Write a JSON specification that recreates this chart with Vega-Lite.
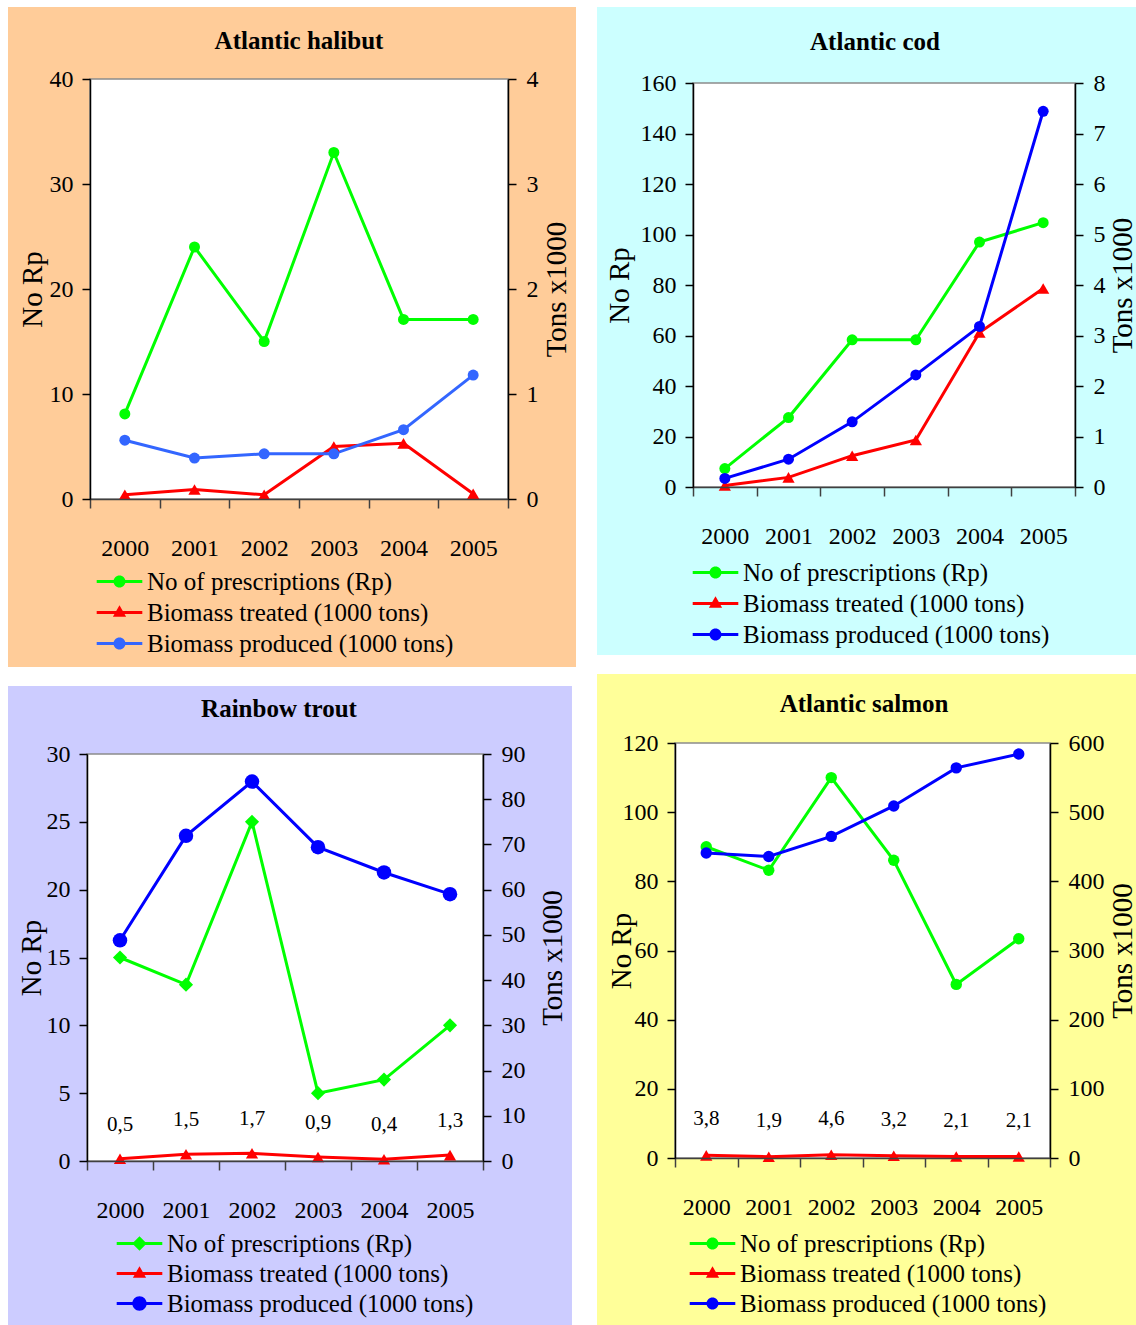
{
  "$schema": "https://vega.github.io/schema/vega-lite/v6.json",
  "padding": {"left": 7, "top": 7, "right": 1, "bottom": 0},
  "background": "#FFFFFF",
  "columns": 2,
  "spacing": {"row": 244, "column": 167},
  "bounds": "flush",
  "align": "all",
  "resolve": {"scale": {"color": "independent", "shape": "independent"}, "legend": {"color": "independent", "shape": "independent"}},
  "config": {
    "view": {"stroke": null},
    "style": {"guide-label": {"font": "Liberation Serif", "fontSize": 24, "fill": "#000000"}, "guide-title": {"font": "Liberation Serif", "fontSize": 29, "fontWeight": "normal", "fill": "#000000"}},
    "axis": {"grid": false, "labelFont": "Liberation Serif", "labelFontSize": 24, "labelColor": "#000000", "titleFont": "Liberation Serif", "titleFontSize": 29, "titleFontWeight": "normal", "titleColor": "#000000", "tickColor": "#000000", "domainColor": "#000000", "tickWidth": 1.5, "domainWidth": 1.5, "tickSize": 8},
    "axisX": {"tickBand": "extent", "labelAngle": 0, "labelPadding": 28, "tickSize": 9, "domainColor": "#404040", "tickColor": "#404040", "labelFont": "Liberation Serif", "labelFontSize": 24},
    "axisLeft": {"labelPadding": 9, "labelFont": "Liberation Serif", "labelFontSize": 24},
    "axisRight": {"labelPadding": 10, "titleAngle": 270, "titleBaseline": "top", "labelFont": "Liberation Serif", "labelFontSize": 24},
    "legend": {"labelFont": "Liberation Serif", "labelFontSize": 25, "labelColor": "#000000", "labelLimit": 600, "labelOffset": 15, "symbolSize": 576, "symbolStrokeWidth": 0, "symbolOpacity": 1, "rowPadding": 5, "padding": 0, "orient": "none", "direction": "vertical"},
    "locale": {"number": {"decimal": ",", "thousands": " ", "grouping": [3], "currency": ["", ""]}}
  },
  "datasets": {
    "halibut": [
      {"year": 2000, "series": "No of prescriptions (Rp)", "value": 8.1},
      {"year": 2001, "series": "No of prescriptions (Rp)", "value": 24},
      {"year": 2002, "series": "No of prescriptions (Rp)", "value": 15},
      {"year": 2003, "series": "No of prescriptions (Rp)", "value": 33},
      {"year": 2004, "series": "No of prescriptions (Rp)", "value": 17.1},
      {"year": 2005, "series": "No of prescriptions (Rp)", "value": 17.1},
      {"year": 2000, "series": "Biomass treated (1000 tons)", "value": 0.04},
      {"year": 2001, "series": "Biomass treated (1000 tons)", "value": 0.09},
      {"year": 2002, "series": "Biomass treated (1000 tons)", "value": 0.04},
      {"year": 2003, "series": "Biomass treated (1000 tons)", "value": 0.5},
      {"year": 2004, "series": "Biomass treated (1000 tons)", "value": 0.53},
      {"year": 2005, "series": "Biomass treated (1000 tons)", "value": 0.05},
      {"year": 2000, "series": "Biomass produced (1000 tons)", "value": 0.56},
      {"year": 2001, "series": "Biomass produced (1000 tons)", "value": 0.39},
      {"year": 2002, "series": "Biomass produced (1000 tons)", "value": 0.43},
      {"year": 2003, "series": "Biomass produced (1000 tons)", "value": 0.43},
      {"year": 2004, "series": "Biomass produced (1000 tons)", "value": 0.66},
      {"year": 2005, "series": "Biomass produced (1000 tons)", "value": 1.18}
    ],
    "cod": [
      {"year": 2000, "series": "No of prescriptions (Rp)", "value": 7.3},
      {"year": 2001, "series": "No of prescriptions (Rp)", "value": 27.5},
      {"year": 2002, "series": "No of prescriptions (Rp)", "value": 58.3},
      {"year": 2003, "series": "No of prescriptions (Rp)", "value": 58.3},
      {"year": 2004, "series": "No of prescriptions (Rp)", "value": 97},
      {"year": 2005, "series": "No of prescriptions (Rp)", "value": 104.7},
      {"year": 2000, "series": "Biomass treated (1000 tons)", "value": 0.03},
      {"year": 2001, "series": "Biomass treated (1000 tons)", "value": 0.19},
      {"year": 2002, "series": "Biomass treated (1000 tons)", "value": 0.62},
      {"year": 2003, "series": "Biomass treated (1000 tons)", "value": 0.93},
      {"year": 2004, "series": "Biomass treated (1000 tons)", "value": 3.06},
      {"year": 2005, "series": "Biomass treated (1000 tons)", "value": 3.93},
      {"year": 2000, "series": "Biomass produced (1000 tons)", "value": 0.17},
      {"year": 2001, "series": "Biomass produced (1000 tons)", "value": 0.55},
      {"year": 2002, "series": "Biomass produced (1000 tons)", "value": 1.29},
      {"year": 2003, "series": "Biomass produced (1000 tons)", "value": 2.22},
      {"year": 2004, "series": "Biomass produced (1000 tons)", "value": 3.18},
      {"year": 2005, "series": "Biomass produced (1000 tons)", "value": 7.44}
    ],
    "trout": [
      {"year": 2000, "series": "No of prescriptions (Rp)", "value": 15},
      {"year": 2001, "series": "No of prescriptions (Rp)", "value": 13},
      {"year": 2002, "series": "No of prescriptions (Rp)", "value": 25},
      {"year": 2003, "series": "No of prescriptions (Rp)", "value": 5},
      {"year": 2004, "series": "No of prescriptions (Rp)", "value": 6},
      {"year": 2005, "series": "No of prescriptions (Rp)", "value": 10},
      {"year": 2000, "series": "Biomass treated (1000 tons)", "value": 0.5},
      {"year": 2001, "series": "Biomass treated (1000 tons)", "value": 1.5},
      {"year": 2002, "series": "Biomass treated (1000 tons)", "value": 1.7},
      {"year": 2003, "series": "Biomass treated (1000 tons)", "value": 0.9},
      {"year": 2004, "series": "Biomass treated (1000 tons)", "value": 0.4},
      {"year": 2005, "series": "Biomass treated (1000 tons)", "value": 1.3},
      {"year": 2000, "series": "Biomass produced (1000 tons)", "value": 48.8},
      {"year": 2001, "series": "Biomass produced (1000 tons)", "value": 71.9},
      {"year": 2002, "series": "Biomass produced (1000 tons)", "value": 83.9},
      {"year": 2003, "series": "Biomass produced (1000 tons)", "value": 69.4},
      {"year": 2004, "series": "Biomass produced (1000 tons)", "value": 63.8},
      {"year": 2005, "series": "Biomass produced (1000 tons)", "value": 59.0}
    ],
    "salmon": [
      {"year": 2000, "series": "No of prescriptions (Rp)", "value": 90},
      {"year": 2001, "series": "No of prescriptions (Rp)", "value": 83.2},
      {"year": 2002, "series": "No of prescriptions (Rp)", "value": 110},
      {"year": 2003, "series": "No of prescriptions (Rp)", "value": 86.1},
      {"year": 2004, "series": "No of prescriptions (Rp)", "value": 50.2},
      {"year": 2005, "series": "No of prescriptions (Rp)", "value": 63.4},
      {"year": 2000, "series": "Biomass treated (1000 tons)", "value": 3.8},
      {"year": 2001, "series": "Biomass treated (1000 tons)", "value": 1.9},
      {"year": 2002, "series": "Biomass treated (1000 tons)", "value": 4.6},
      {"year": 2003, "series": "Biomass treated (1000 tons)", "value": 3.2},
      {"year": 2004, "series": "Biomass treated (1000 tons)", "value": 2.1},
      {"year": 2005, "series": "Biomass treated (1000 tons)", "value": 2.1},
      {"year": 2000, "series": "Biomass produced (1000 tons)", "value": 441},
      {"year": 2001, "series": "Biomass produced (1000 tons)", "value": 436},
      {"year": 2002, "series": "Biomass produced (1000 tons)", "value": 465},
      {"year": 2003, "series": "Biomass produced (1000 tons)", "value": 509},
      {"year": 2004, "series": "Biomass produced (1000 tons)", "value": 564},
      {"year": 2005, "series": "Biomass produced (1000 tons)", "value": 584}
    ]
  },
  "concat": [
    {
      "width": 421, "height": 420,
      "layer": [
        {
          "data": {"values": [{}]},
          "layer": [
            {"mark": {"type": "rect", "color": "#FFCC99"},
             "encoding": {
               "x": {"datum": -0.1962, "type": "quantitative", "scale": {"domain": [0, 1], "range": [3, 421], "nice": false, "zero": false}, "axis": null},
               "x2": {"datum": 1.1627},
               "y": {"datum": -0.4, "type": "quantitative", "scale": {"domain": [0, 1], "nice": false, "zero": false}, "axis": null},
               "y2": {"datum": 1.1714}}},
            {"mark": {"type": "rect", "fill": "#FFFFFF", "stroke": "#8C8C8C", "strokeWidth": 1.5},
             "encoding": {"x": {"datum": 0, "type": "quantitative"}, "x2": {"datum": 1}, "y": {"datum": 0, "type": "quantitative"}, "y2": {"datum": 1}}},
            {"mark": {"type": "text", "text": "Atlantic halibut", "font": "Liberation Serif", "fontSize": 25, "fontWeight": "bold", "color": "#000000", "align": "center", "baseline": "alphabetic"},
             "encoding": {"x": {"datum": 0.5, "type": "quantitative"}, "y": {"datum": 1.0726, "type": "quantitative"}}}
          ]
        },
        {
          "data": {"name": "halibut"},
          "layer": [
            {
              "transform": [{"filter": "datum.series == 'No of prescriptions (Rp)'"}],
              "encoding": {
                "x": {"field": "year", "type": "ordinal", "scale": {"type": "band", "paddingInner": 0, "paddingOuter": 0, "range": [3, 421]}, "axis": {"title": null, "orient": "bottom", "zindex": 1, "labelFont": "Liberation Serif", "labelFontSize": 24}},
                "y": {"field": "value", "type": "quantitative", "scale": {"domain": [0, 40], "nice": false}, "axis": {"orient": "left", "zindex": 1, "labelFont": "Liberation Serif", "labelFontSize": 24, "titleFont": "Liberation Serif", "titleFontSize": 29, "values": [0, 10, 20, 30, 40], "title": "No Rp", "titlePadding": 2, "offset": -3}},
                "color": {"field": "series", "type": "nominal",
                  "scale": {"domain": ["No of prescriptions (Rp)", "Biomass treated (1000 tons)", "Biomass produced (1000 tons)"], "range": ["#00FF00", "#FF0000", "#3366FF"]},
                  "legend": {"title": null, "orient": "none", "legendX": 20, "legendY": 490, "zindex": 1}}
              },
              "layer": [
                {"mark": {"type": "line", "strokeWidth": 3}},
                {"mark": {"type": "point", "shape": "circle", "filled": true, "opacity": 1, "size": 121}},
                {"mark": {"type": "point", "filled": true, "opacity": 0, "size": 4},
                 "encoding": {"shape": {"field": "series", "type": "nominal",
                   "scale": {"domain": ["No of prescriptions (Rp)", "Biomass treated (1000 tons)", "Biomass produced (1000 tons)"],
                     "range": ["M-1.9,-0.125H1.9V0.125H-1.9ZM0.5,0A0.5,0.5,0,1,1,-0.5,0A0.5,0.5,0,1,1,0.5,0Z", "M-1.9,-0.125H1.9V0.125H-1.9ZM0,-0.6L0.55,0.35L-0.55,0.35Z", "M-1.9,-0.125H1.9V0.125H-1.9ZM0.5,0A0.5,0.5,0,1,1,-0.5,0A0.5,0.5,0,1,1,0.5,0Z"]},
                   "legend": {"title": null, "orient": "none", "legendX": 20, "legendY": 490, "zindex": 1}}}}
              ]
            },
            {
              "transform": [{"filter": "datum.series != 'No of prescriptions (Rp)'"}],
              "encoding": {
                "x": {"field": "year", "type": "ordinal", "scale": {"type": "band", "paddingInner": 0, "paddingOuter": 0, "range": [3, 421]}, "axis": {"title": null, "orient": "bottom", "zindex": 1, "labelFont": "Liberation Serif", "labelFontSize": 24}},
                "y": {"field": "value", "type": "quantitative", "scale": {"domain": [0, 4], "nice": false}, "axis": {"orient": "right", "zindex": 1, "labelFont": "Liberation Serif", "labelFontSize": 24, "titleFont": "Liberation Serif", "titleFontSize": 29, "values": [0, 1, 2, 3, 4], "title": "Tons x1000", "titlePadding": 4}},
                "color": {"field": "series", "type": "nominal"}
              },
              "layer": [
                {"mark": {"type": "line", "strokeWidth": 3}},
                {"transform": [{"filter": "datum.series == 'Biomass treated (1000 tons)'"}], "mark": {"type": "point", "shape": "triangle-up", "filled": true, "opacity": 1, "size": 150}},
                {"transform": [{"filter": "datum.series == 'Biomass produced (1000 tons)'"}], "mark": {"type": "point", "shape": "circle", "filled": true, "opacity": 1, "size": 121}}
              ]
            }
          ],
          "resolve": {"scale": {"y": "independent"}}
        }
      ],
      "resolve": {"scale": {"x": "independent", "y": "independent"}}
    },
    {
      "width": 400, "height": 408,
      "layer": [
        {
          "data": {"values": [{}]},
          "layer": [
            {"mark": {"type": "rect", "color": "#CCFFFF"},
             "encoding": {
               "x": {"datum": -0.2513, "type": "quantitative", "scale": {"domain": [0, 1], "range": [18, 400], "nice": false, "zero": false}, "axis": null},
               "x2": {"datum": 1.1597},
               "y": {"datum": -0.4158, "type": "quantitative", "scale": {"domain": [0, 1], "range": [408, 4], "nice": false, "zero": false}, "axis": null},
               "y2": {"datum": 1.1881}}},
            {"mark": {"type": "rect", "fill": "#FFFFFF", "stroke": "#8C8C8C", "strokeWidth": 1.5},
             "encoding": {"x": {"datum": 0, "type": "quantitative"}, "x2": {"datum": 1}, "y": {"datum": 0, "type": "quantitative"}, "y2": {"datum": 1}}},
            {"mark": {"type": "text", "text": "Atlantic  cod", "font": "Liberation Serif", "fontSize": 25, "fontWeight": "bold", "color": "#000000", "align": "center", "baseline": "alphabetic"},
             "encoding": {"x": {"datum": 0.4764, "type": "quantitative"}, "y": {"datum": 1.0829, "type": "quantitative"}}}
          ]
        },
        {
          "data": {"name": "cod"},
          "layer": [
            {
              "transform": [{"filter": "datum.series == 'No of prescriptions (Rp)'"}],
              "encoding": {
                "x": {"field": "year", "type": "ordinal", "scale": {"type": "band", "paddingInner": 0, "paddingOuter": 0, "range": [18, 400]}, "axis": {"title": null, "orient": "bottom", "zindex": 1, "labelFont": "Liberation Serif", "labelFontSize": 24}},
                "y": {"field": "value", "type": "quantitative", "scale": {"domain": [0, 160], "nice": false, "range": [408, 4]}, "axis": {"orient": "left", "zindex": 1, "labelFont": "Liberation Serif", "labelFontSize": 24, "titleFont": "Liberation Serif", "titleFontSize": 29, "values": [0, 20, 40, 60, 80, 100, 120, 140, 160], "title": "No Rp", "titlePadding": 6, "offset": -18}},
                "color": {"field": "series", "type": "nominal",
                  "scale": {"domain": ["No of prescriptions (Rp)", "Biomass treated (1000 tons)", "Biomass produced (1000 tons)"], "range": ["#00FF00", "#FF0000", "#0000FF"]},
                  "legend": {"title": null, "orient": "none", "legendX": 28, "legendY": 481, "zindex": 1}}
              },
              "layer": [
                {"mark": {"type": "line", "strokeWidth": 3}},
                {"mark": {"type": "point", "shape": "circle", "filled": true, "opacity": 1, "size": 121}},
                {"mark": {"type": "point", "filled": true, "opacity": 0, "size": 4},
                 "encoding": {"shape": {"field": "series", "type": "nominal",
                   "scale": {"domain": ["No of prescriptions (Rp)", "Biomass treated (1000 tons)", "Biomass produced (1000 tons)"],
                     "range": ["M-1.9,-0.125H1.9V0.125H-1.9ZM0.5,0A0.5,0.5,0,1,1,-0.5,0A0.5,0.5,0,1,1,0.5,0Z", "M-1.9,-0.125H1.9V0.125H-1.9ZM0,-0.6L0.55,0.35L-0.55,0.35Z", "M-1.9,-0.125H1.9V0.125H-1.9ZM0.5,0A0.5,0.5,0,1,1,-0.5,0A0.5,0.5,0,1,1,0.5,0Z"]},
                   "legend": {"title": null, "orient": "none", "legendX": 28, "legendY": 481, "zindex": 1}}}}
              ]
            },
            {
              "transform": [{"filter": "datum.series != 'No of prescriptions (Rp)'"}],
              "encoding": {
                "x": {"field": "year", "type": "ordinal", "scale": {"type": "band", "paddingInner": 0, "paddingOuter": 0, "range": [18, 400]}, "axis": {"title": null, "orient": "bottom", "zindex": 1, "labelFont": "Liberation Serif", "labelFontSize": 24}},
                "y": {"field": "value", "type": "quantitative", "scale": {"domain": [0, 8], "nice": false, "range": [408, 4]}, "axis": {"orient": "right", "zindex": 1, "labelFont": "Liberation Serif", "labelFontSize": 24, "titleFont": "Liberation Serif", "titleFontSize": 29, "values": [0, 1, 2, 3, 4, 5, 6, 7, 8], "title": "Tons x1000", "titlePadding": 3}},
                "color": {"field": "series", "type": "nominal"}
              },
              "layer": [
                {"mark": {"type": "line", "strokeWidth": 3}},
                {"transform": [{"filter": "datum.series == 'Biomass treated (1000 tons)'"}], "mark": {"type": "point", "shape": "triangle-up", "filled": true, "opacity": 1, "size": 150}},
                {"transform": [{"filter": "datum.series == 'Biomass produced (1000 tons)'"}], "mark": {"type": "point", "shape": "circle", "filled": true, "opacity": 1, "size": 121}}
              ]
            }
          ],
          "resolve": {"scale": {"y": "independent"}}
        }
      ],
      "resolve": {"scale": {"x": "independent", "y": "independent"}}
    },
    {
      "width": 396, "height": 418,
      "layer": [
        {
          "data": {"values": [{}]},
          "layer": [
            {"mark": {"type": "rect", "color": "#CCCCFF"},
             "encoding": {
               "x": {"datum": -0.1995, "type": "quantitative", "scale": {"domain": [0, 1], "nice": false, "zero": false}, "axis": null},
               "x2": {"datum": 1.2247},
               "y": {"datum": -0.403, "type": "quantitative", "scale": {"domain": [0, 1], "range": [418, 11], "nice": false, "zero": false}, "axis": null},
               "y2": {"datum": 1.1671}}},
            {"mark": {"type": "rect", "fill": "#FFFFFF", "stroke": "#8C8C8C", "strokeWidth": 1.5},
             "encoding": {"x": {"datum": 0, "type": "quantitative"}, "x2": {"datum": 1}, "y": {"datum": 0, "type": "quantitative"}, "y2": {"datum": 1}}},
            {"mark": {"type": "text", "text": "Rainbow trout", "font": "Liberation Serif", "fontSize": 25, "fontWeight": "bold", "color": "#000000", "align": "center", "baseline": "alphabetic"},
             "encoding": {"x": {"datum": 0.4848, "type": "quantitative"}, "y": {"datum": 1.0921, "type": "quantitative"}}}
          ]
        },
        {
          "data": {"name": "trout"},
          "layer": [
            {
              "transform": [{"filter": "datum.series == 'No of prescriptions (Rp)'"}],
              "encoding": {
                "x": {"field": "year", "type": "ordinal", "scale": {"type": "band", "paddingInner": 0, "paddingOuter": 0}, "axis": {"title": null, "orient": "bottom", "zindex": 1, "labelFont": "Liberation Serif", "labelFontSize": 24}},
                "y": {"field": "value", "type": "quantitative", "scale": {"domain": [0, 30], "nice": false, "range": [418, 11]}, "axis": {"orient": "left", "zindex": 1, "labelFont": "Liberation Serif", "labelFontSize": 24, "titleFont": "Liberation Serif", "titleFontSize": 29, "values": [0, 5, 10, 15, 20, 25, 30], "title": "No Rp", "titlePadding": 0}},
                "color": {"field": "series", "type": "nominal",
                  "scale": {"domain": ["No of prescriptions (Rp)", "Biomass treated (1000 tons)", "Biomass produced (1000 tons)"], "range": ["#00FF00", "#FF0000", "#0000FF"]},
                  "legend": {"title": null, "orient": "none", "legendX": 40, "legendY": 488, "zindex": 1, "rowPadding": 4}}
              },
              "layer": [
                {"mark": {"type": "line", "strokeWidth": 3}},
                {"mark": {"type": "point", "shape": "diamond", "filled": true, "opacity": 1, "size": 200}},
                {"mark": {"type": "point", "filled": true, "opacity": 0, "size": 4},
                 "encoding": {"shape": {"field": "series", "type": "nominal",
                   "scale": {"domain": ["No of prescriptions (Rp)", "Biomass treated (1000 tons)", "Biomass produced (1000 tons)"],
                     "range": ["M-1.9,-0.125H1.9V0.125H-1.9ZM0,-0.6L0.6,0L0,0.6L-0.6,0Z", "M-1.9,-0.125H1.9V0.125H-1.9ZM0,-0.6L0.55,0.35L-0.55,0.35Z", "M-1.9,-0.125H1.9V0.125H-1.9ZM0.6,0A0.6,0.6,0,1,1,-0.6,0A0.6,0.6,0,1,1,0.6,0Z"]},
                   "legend": {"title": null, "orient": "none", "legendX": 40, "legendY": 488, "zindex": 1, "rowPadding": 4}}}}
              ]
            },
            {
              "transform": [{"filter": "datum.series != 'No of prescriptions (Rp)'"}],
              "encoding": {
                "x": {"field": "year", "type": "ordinal", "scale": {"type": "band", "paddingInner": 0, "paddingOuter": 0}, "axis": {"title": null, "orient": "bottom", "zindex": 1, "labelFont": "Liberation Serif", "labelFontSize": 24}},
                "y": {"field": "value", "type": "quantitative", "scale": {"domain": [0, 90], "nice": false, "range": [418, 11]}, "axis": {"orient": "right", "zindex": 1, "labelFont": "Liberation Serif", "labelFontSize": 24, "titleFont": "Liberation Serif", "titleFontSize": 29, "values": [0, 10, 20, 30, 40, 50, 60, 70, 80, 90], "title": "Tons x1000", "titlePadding": 13}},
                "color": {"field": "series", "type": "nominal"}
              },
              "layer": [
                {"mark": {"type": "line", "strokeWidth": 3}},
                {"transform": [{"filter": "datum.series == 'Biomass treated (1000 tons)'"}], "mark": {"type": "point", "shape": "triangle-up", "filled": true, "opacity": 1, "size": 150}},
                {"transform": [{"filter": "datum.series == 'Biomass produced (1000 tons)'"}], "mark": {"type": "point", "shape": "circle", "filled": true, "opacity": 1, "size": 210}},
                {"transform": [{"filter": "datum.series == 'Biomass treated (1000 tons)'"}], "mark": {"type": "text", "dy": -34, "font": "Liberation Serif", "fontSize": 21, "baseline": "middle"},
                 "encoding": {"text": {"field": "value", "type": "quantitative", "format": ".1f"}, "color": {"value": "#000000"}}}
              ]
            }
          ],
          "resolve": {"scale": {"y": "independent"}}
        }
      ],
      "resolve": {"scale": {"x": "independent", "y": "independent"}}
    },
    {
      "width": 375, "height": 415,
      "layer": [
        {
          "data": {"values": [{}]},
          "layer": [
            {"mark": {"type": "rect", "color": "#FFFF99"},
             "encoding": {
               "x": {"datum": -0.208, "type": "quantitative", "scale": {"domain": [0, 1], "nice": false, "zero": false}, "axis": null},
               "x2": {"datum": 1.2293},
               "y": {"datum": -0.4024, "type": "quantitative", "scale": {"domain": [0, 1], "nice": false, "zero": false}, "axis": null},
               "y2": {"datum": 1.1663}}},
            {"mark": {"type": "rect", "fill": "#FFFFFF", "stroke": "#8C8C8C", "strokeWidth": 1.5},
             "encoding": {"x": {"datum": 0, "type": "quantitative"}, "x2": {"datum": 1}, "y": {"datum": 0, "type": "quantitative"}, "y2": {"datum": 1}}},
            {"mark": {"type": "text", "text": "Atlantic  salmon", "font": "Liberation Serif", "fontSize": 25, "fontWeight": "bold", "color": "#000000", "align": "center", "baseline": "alphabetic"},
             "encoding": {"x": {"datum": 0.504, "type": "quantitative"}, "y": {"datum": 1.0735, "type": "quantitative"}}}
          ]
        },
        {
          "data": {"name": "salmon"},
          "layer": [
            {
              "transform": [{"filter": "datum.series == 'No of prescriptions (Rp)'"}],
              "encoding": {
                "x": {"field": "year", "type": "ordinal", "scale": {"type": "band", "paddingInner": 0, "paddingOuter": 0}, "axis": {"title": null, "orient": "bottom", "zindex": 1, "labelFont": "Liberation Serif", "labelFontSize": 24}},
                "y": {"field": "value", "type": "quantitative", "scale": {"domain": [0, 120], "nice": false}, "axis": {"orient": "left", "zindex": 1, "labelFont": "Liberation Serif", "labelFontSize": 24, "titleFont": "Liberation Serif", "titleFontSize": 29, "values": [0, 20, 40, 60, 80, 100, 120], "title": "No Rp", "titlePadding": -14}},
                "color": {"field": "series", "type": "nominal",
                  "scale": {"domain": ["No of prescriptions (Rp)", "Biomass treated (1000 tons)", "Biomass produced (1000 tons)"], "range": ["#00FF00", "#FF0000", "#0000FF"]},
                  "legend": {"title": null, "orient": "none", "legendX": 25, "legendY": 488, "zindex": 1, "rowPadding": 4}}
              },
              "layer": [
                {"mark": {"type": "line", "strokeWidth": 3}},
                {"mark": {"type": "point", "shape": "circle", "filled": true, "opacity": 1, "size": 130}},
                {"mark": {"type": "point", "filled": true, "opacity": 0, "size": 4},
                 "encoding": {"shape": {"field": "series", "type": "nominal",
                   "scale": {"domain": ["No of prescriptions (Rp)", "Biomass treated (1000 tons)", "Biomass produced (1000 tons)"],
                     "range": ["M-1.9,-0.125H1.9V0.125H-1.9ZM0.5,0A0.5,0.5,0,1,1,-0.5,0A0.5,0.5,0,1,1,0.5,0Z", "M-1.9,-0.125H1.9V0.125H-1.9ZM0,-0.6L0.55,0.35L-0.55,0.35Z", "M-1.9,-0.125H1.9V0.125H-1.9ZM0.5,0A0.5,0.5,0,1,1,-0.5,0A0.5,0.5,0,1,1,0.5,0Z"]},
                   "legend": {"title": null, "orient": "none", "legendX": 25, "legendY": 488, "zindex": 1, "rowPadding": 4}}}}
              ]
            },
            {
              "transform": [{"filter": "datum.series != 'No of prescriptions (Rp)'"}],
              "encoding": {
                "x": {"field": "year", "type": "ordinal", "scale": {"type": "band", "paddingInner": 0, "paddingOuter": 0}, "axis": {"title": null, "orient": "bottom", "zindex": 1, "labelFont": "Liberation Serif", "labelFontSize": 24}},
                "y": {"field": "value", "type": "quantitative", "scale": {"domain": [0, 600], "nice": false}, "axis": {"orient": "right", "zindex": 1, "labelFont": "Liberation Serif", "labelFontSize": 24, "titleFont": "Liberation Serif", "titleFontSize": 29, "values": [0, 100, 200, 300, 400, 500, 600], "title": "Tons x1000", "titlePadding": 4}},
                "color": {"field": "series", "type": "nominal"}
              },
              "layer": [
                {"mark": {"type": "line", "strokeWidth": 3}},
                {"transform": [{"filter": "datum.series == 'Biomass treated (1000 tons)'"}], "mark": {"type": "point", "shape": "triangle-up", "filled": true, "opacity": 1, "size": 150}},
                {"transform": [{"filter": "datum.series == 'Biomass produced (1000 tons)'"}], "mark": {"type": "point", "shape": "circle", "filled": true, "opacity": 1, "size": 130}},
                {"transform": [{"filter": "datum.series == 'Biomass treated (1000 tons)'"}], "mark": {"type": "text", "dy": -36, "font": "Liberation Serif", "fontSize": 21, "baseline": "middle"},
                 "encoding": {"text": {"field": "value", "type": "quantitative", "format": ".1f"}, "color": {"value": "#000000"}}}
              ]
            }
          ],
          "resolve": {"scale": {"y": "independent"}}
        }
      ],
      "resolve": {"scale": {"x": "independent", "y": "independent"}}
    }
  ]
}
